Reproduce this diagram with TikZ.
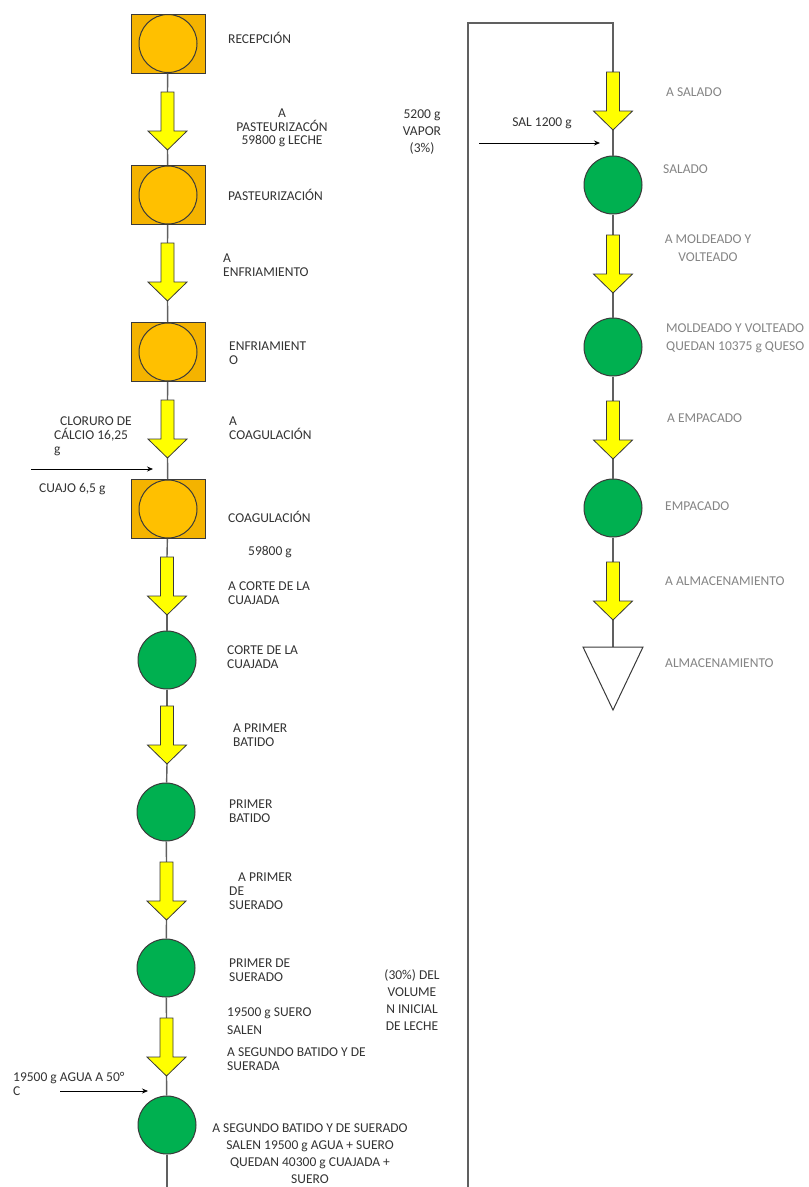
\documentclass[tikz,border=0pt]{standalone}
\usepackage{fontspec}
\setmainfont{Carlito}
\usetikzlibrary{calc,arrows.meta}
\definecolor{orbox}{HTML}{F4B300}
\definecolor{orcirc}{HTML}{FFC000}
\definecolor{gr}{HTML}{00B050}
\definecolor{yel}{HTML}{FFFF00}
\definecolor{edge}{HTML}{3A3A3A}
\definecolor{linegray}{HTML}{606060}
\definecolor{txtdark}{HTML}{333333}
\definecolor{txtgray}{HTML}{858585}
\tikzset{
 conn/.style={draw=linegray, line width=1.4pt},
 obox/.style={rectangle, draw=edge, fill=orbox, line width=1pt, minimum width=74pt, minimum height=59pt, inner sep=0pt},
 ocirc/.style={circle, draw=edge, fill=orcirc, line width=1pt, minimum size=58pt, inner sep=0pt},
 gcirc/.style={circle, draw=edge, fill=gr, line width=1pt, minimum size=58pt, inner sep=0pt},
 flowarrowbox/.style={rectangle, minimum width=39pt, minimum height=58pt, inner sep=0pt, outer sep=0pt},
 flowarrowshape/.style={draw=edge, fill=yel, line width=0.8pt, line join=miter},
 storebox/.style={rectangle, minimum width=60pt, minimum height=63pt, inner sep=0pt, outer sep=0pt},
 storeshape/.style={draw=edge, fill=white, line width=1pt, line join=miter},
 lbl/.style={inner sep=0pt, text=txtdark, font=\fontsize{13.5}{13.8}\selectfont, align=left},
 lblr/.style={lbl, text=txtgray},
 widelines/.style={font=\fontsize{13.5}{17}\selectfont},
 feed/.style={draw=black, line width=0.8pt, -{Stealth[length=6pt,width=5pt]}},
}
\begin{document}
\begin{tikzpicture}[x=1pt,y=-1pt]
\useasboundingbox[fill=white] (0,0) rectangle (809,1187);

% ---------- left column process nodes ----------
\node[obox] (rec) at (168,43.5) {};
\node[ocirc] (recC) at (rec) {};
\node[obox] (past) at (168,195) {};
\node[ocirc] (pastC) at (past) {};
\node[obox] (enf) at (168,352) {};
\node[ocirc] (enfC) at (enf) {};
\node[obox] (coag) at (168,509) {};
\node[ocirc] (coagC) at (coag) {};
\node[gcirc] (corte) at (167,660) {};
\node[gcirc] (pbat) at (166,812) {};
\node[gcirc] (psue) at (166,968) {};
\node[gcirc] (sbat) at (167,1125) {};

% ---------- right column process nodes ----------
\node[gcirc] (sal) at (613,185) {};
\node[gcirc] (mold) at (613,347) {};
\node[gcirc] (emp) at (613,508) {};
\node[storebox] (alm) at (613,678.5) {};

% ---------- block arrows (positions) ----------
\node[flowarrowbox] (a1) at (167.5,121) {};
\node[flowarrowbox] (a2) at (167.5,272) {};
\node[flowarrowbox] (a3) at (167.5,429) {};
\node[flowarrowbox] (a4) at (167,586) {};
\node[flowarrowbox] (a5) at (167,735) {};
\node[flowarrowbox] (a6) at (166.5,891) {};
\node[flowarrowbox] (a7) at (166.5,1047) {};
\node[flowarrowbox] (r1) at (613,101) {};
\node[flowarrowbox] (r2) at (613,264) {};
\node[flowarrowbox] (r3) at (613,430) {};
\node[flowarrowbox] (r4) at (613,591) {};

% ---------- connectors ----------
\draw[conn] (rec) -- (a1.north);
\draw[conn] (a1.south) -- (past);
\draw[conn] (past) -- (a2.north);
\draw[conn] (a2.south) -- (enf);
\draw[conn] (enf) -- (a3.north);
\draw[conn] (a3.south) -- (coag);
\draw[conn] (coag) -- (a4.north);
\draw[conn] (a4.south) -- (corte);
\draw[conn] (corte) -- (a5.north);
\draw[conn] (a5.south) -- (pbat);
\draw[conn] (pbat) -- (a6.north);
\draw[conn] (a6.south) -- (psue);
\draw[conn] (psue) -- (a7.north);
\draw[conn] (a7.south) -- (sbat);
\coordinate (botL) at (167,1187);
\coordinate (botR) at (468,1187);
\coordinate (topR) at (468,23);
\draw[conn] (sbat) -- (botL);
\draw[conn] (botR) -- (topR) -| (r1.north);
\draw[conn] (r1.south) -- (sal);
\draw[conn] (sal) -- (r2.north);
\draw[conn] (r2.south) -- (mold);
\draw[conn] (mold) -- (r3.north);
\draw[conn] (r3.south) -- (emp);
\draw[conn] (emp) -- (r4.north);
\draw[conn] (r4.south) -- (alm.north);

% ---------- block arrow shapes ----------
\foreach \n in {a1,a2,a3,a4,a5,a6,a7,r1,r2,r3,r4}{
 \draw[flowarrowshape] ($(\n)+(-6.5,-29)$) -- ($(\n)+(6.5,-29)$) -- ($(\n)+(6.5,10)$)
   -- ($(\n)+(19.5,10)$) -- ($(\n)+(0,29)$) -- ($(\n)+(-19.5,10)$) -- ($(\n)+(-6.5,10)$) -- cycle;
}
% storage triangle
\draw[storeshape] (alm.north west) -- (alm.north east) -- (alm.south) -- cycle;

% ---------- feed arrows ----------
\coordinate (cuajoS) at (31,469);
\coordinate (cuajoE) at (153,469);
\draw[feed] (cuajoS) -- (cuajoE);
\coordinate (aguaS) at (60,1091);
\coordinate (aguaE) at (148,1091);
\draw[feed] (aguaS) -- (aguaE);
\coordinate (salS) at (479,143);
\coordinate (salE) at (600,143);
\draw[feed] (salS) -- (salE);

% ---------- left labels ----------
\node[lbl, anchor=west] (lRec) at (228,38) {RECEPCIÓN};
\node[lbl, align=center] (lA1) at (282,128) {A\\PASTEURIZACÓN\\59800 g LECHE};
\node[lbl, widelines, align=center] (lVap) at (422,132) {5200 g\\VAPOR\\(3\%)};
\node[lbl, anchor=west] (lPast) at (228,195) {PASTEURIZACIÓN};
\node[lbl, anchor=west] (lA2) at (223,265) {A\\ENFRIAMIENTO};
\node[lbl, anchor=west] (lEnf) at (229,353.5) {ENFRIAMIENT\\O};
\node[lbl, anchor=west] (lClor) at (54,436) {\hspace*{6pt}CLORURO DE\\CÁLCIO 16,25\\g};
\node[lbl, anchor=west] (lA3) at (229,428) {A\\COAGULACIÓN};
\node[lbl, anchor=west] (lCuajo) at (39,489) {CUAJO 6,5 g};
\node[lbl, anchor=west] (lCoag) at (228,517) {COAGULACIÓN};
\node[lbl] (l59800) at (270,552) {59800 g};
\node[lbl, anchor=west] (lA4) at (228,593) {A CORTE DE LA\\CUAJADA};
\node[lbl, anchor=west] (lCorte) at (227,657.5) {CORTE DE LA\\CUAJADA};
\node[lbl, anchor=west] (lA5) at (233,735) {A PRIMER\\BATIDO};
\node[lbl, anchor=west] (lPbat) at (229,811.5) {PRIMER\\BATIDO};
\node[lbl, anchor=west] (lA6) at (229,891) {\hspace*{9pt}A PRIMER\\DE\\SUERADO};
\node[lbl, anchor=west] (lPsue) at (229,970) {PRIMER DE\\SUERADO};
\node[lbl, widelines, align=center] (l30) at (412,1000.5) {(30\%) DEL\\VOLUME\\N INICIAL\\DE LECHE};
\node[lbl, anchor=west, font=\fontsize{13.5}{18}\selectfont] (lSuero) at (227,1021) {19500 g SUERO\\SALEN};
\node[lbl, anchor=west] (lA7) at (227,1059) {A SEGUNDO BATIDO Y DE\\SUERADA};
\node[lbl, anchor=west] (lAgua) at (13,1084) {19500 g AGUA A 50°\\C};
\node[lbl, widelines, align=center] (lSbat) at (310,1153.5) {A SEGUNDO BATIDO Y DE SUERADO\\SALEN 19500 g AGUA + SUERO\\QUEDAN 40300 g CUAJADA +\\SUERO};

% ---------- right labels ----------
\node[lblr, anchor=west] (lR1) at (666,92) {A SALADO};
\node[lbl] (lSal) at (542,123) {SAL 1200 g};
\node[lblr, anchor=west] (lSalado) at (663,169) {SALADO};
\node[lblr, align=center, font=\fontsize{13.5}{18}\selectfont] (lR2) at (708,248) {A MOLDEADO Y\\VOLTEADO};
\node[lblr, anchor=west, font=\fontsize{13.5}{18}\selectfont] (lMold) at (666,338) {MOLDEADO Y VOLTEADO\\QUEDAN 10375 g QUESO};
\node[lblr, anchor=west] (lR3) at (667,418) {A EMPACADO};
\node[lblr, anchor=west] (lEmp) at (665,506) {EMPACADO};
\node[lblr, anchor=west] (lR4) at (665,581) {A ALMACENAMIENTO};
\node[lblr, anchor=west] (lAlm) at (665,663) {ALMACENAMIENTO};
\end{tikzpicture}
\end{document}
